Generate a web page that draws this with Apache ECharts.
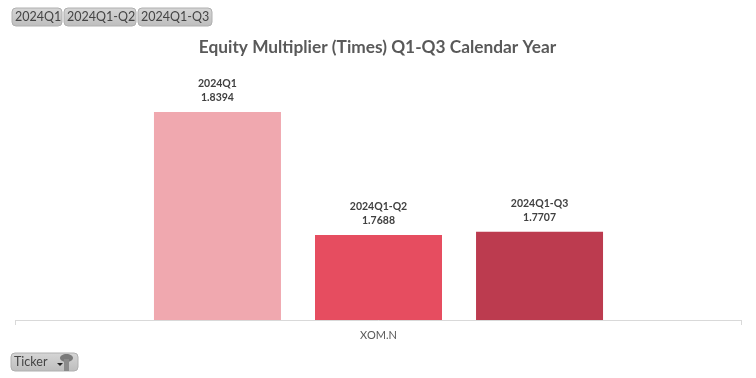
<!DOCTYPE html>
<html><head><meta charset="utf-8">
<style>html,body{margin:0;padding:0;background:#fff}#c{width:756px;height:378px}</style>
<script src="https://cdn.jsdelivr.net/npm/echarts@6/dist/echarts.min.js"></script>
</head><body><div id="c"></div>
<script>
const categories = ['XOM.N'];
const periods = ['2024Q1', '2024Q1-Q2', '2024Q1-Q3'];
const q1 = [1.8394];
const q1q2 = [1.7688];
const q1q3 = [1.7707];
const colors = ['#F0A8AF', '#E64D60', '#BC3B4F'];
const seriesValues = [q1, q1q2, q1q3];
const font = 'Lato, "Open Sans", sans-serif';

const chart = echarts.init(document.getElementById('c'), null, {renderer: 'canvas'});

function button(x, y, w, h, label, extra) {
  return {
    type: 'group', x, y,
    children: [
      {type: 'rect', shape: {x: 0, y: 0, width: w, height: h, r: 4},
       style: {fill: {type: 'linear', x: 0, y: 0, x2: 0, y2: 1,
         colorStops: [{offset: 0, color: '#D6D6D6'}, {offset: 1, color: '#BDBDBD'}]},
         stroke: '#B0B0B0', lineWidth: 1}},
      {type: 'text', style: {x: 3, y: h / 2, text: label, fill: '#444', font: '12.5px ' + font, verticalAlign: 'middle'}}
    ].concat(extra || [])
  };
}

const filterIcon = [
  {type: 'ellipse', shape: {cx: 55.5, cy: 5, rx: 6.5, ry: 4}, style: {fill: '#7A7A7A'}},
  {type: 'rect', shape: {x: 53, y: 6, width: 5, height: 12}, style: {fill: '#8A8A8A'}},
  {type: 'polygon', shape: {points: [[46, 10], [52, 10], [49, 13]]}, style: {fill: '#222'}}
];

chart.setOption({
  animation: false,
  backgroundColor: '#fff',
  title: {
    text: 'Equity Multiplier (Times) Q1-Q3 Calendar Year',
    left: 372.5, top: 34, textAlign: 'center',
    textStyle: {fontFamily: font, fontSize: 17.3, fontWeight: 'bold', color: '#595959'}
  },
  grid: {left: 15.5, right: 14.5, top: 76, bottom: 58},
  xAxis: {
    type: 'category', data: categories,
    axisLine: {lineStyle: {color: '#D9D9D9', width: 1}},
    axisTick: {show: true, length: 5, lineStyle: {color: '#D9D9D9'}},
    axisLabel: {color: '#595959', fontFamily: font, fontSize: 11, margin: 10}
  },
  yAxis: {type: 'value', min: 1.72, max: 1.86, show: false, splitLine: {show: false}},
  series: periods.map((name, i) => ({
    name, type: 'bar', data: seriesValues[i], barWidth: 127, barGap: '26.8%',
    itemStyle: {color: colors[i]},
    label: {
      show: true, position: 'top', distance: 7,
      formatter: p => p.seriesName + '\n' + p.value.toFixed(4),
      fontFamily: font, fontSize: 10.5, fontWeight: 'bold', color: '#404040', lineHeight: 14
    }
  })),
  graphic: [
    button(12, 8, 50, 18, periods[0]),
    button(64, 8, 72, 18, periods[1]),
    button(138, 8, 74, 18, periods[2]),
    button(11, 353, 67, 18, 'Ticker', filterIcon)
  ]
});
</script></body></html>
